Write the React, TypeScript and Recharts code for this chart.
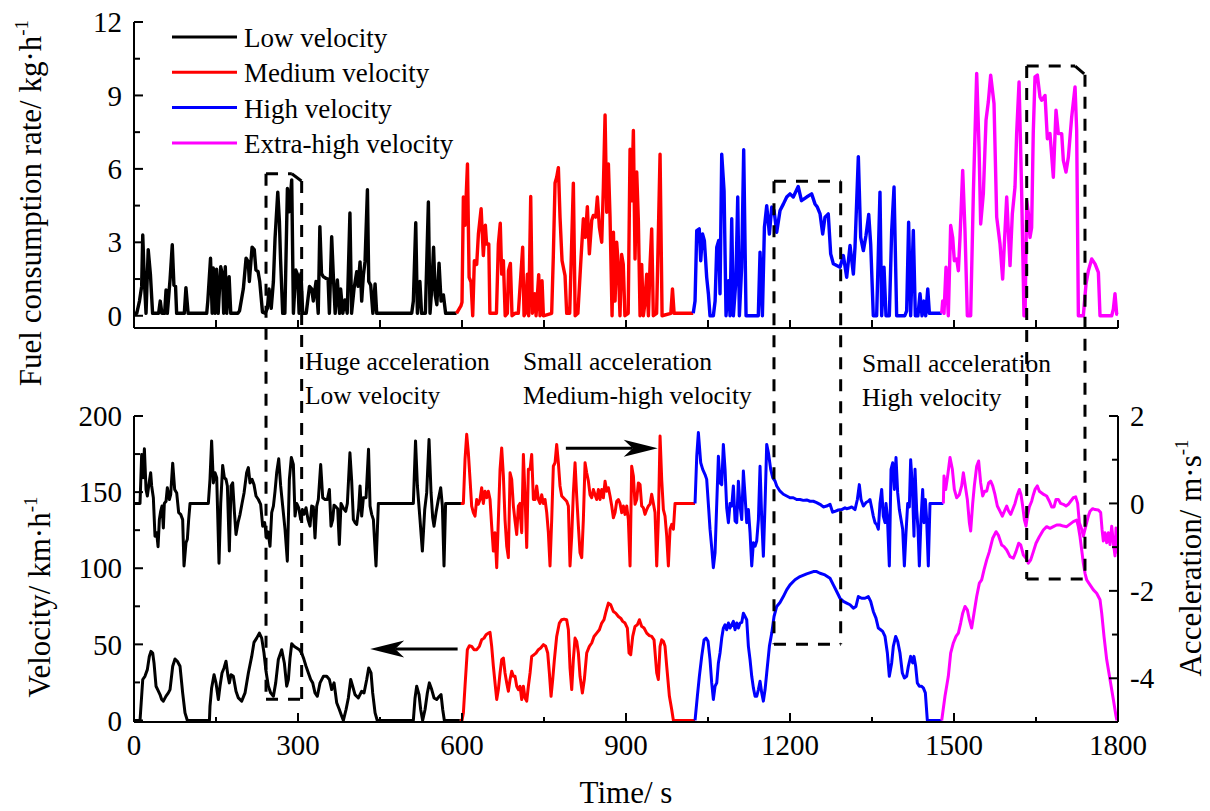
import React from 'react';
import { LineChart, Line, XAxis, YAxis, ReferenceLine } from 'recharts';

type Pt = [number, number];

const segmentNames = ['Low velocity', 'Medium velocity', 'High velocity', 'Extra-high velocity'];
const segmentColors = ['#000000', '#ff0000', '#0000ff', '#ff00ff'];

// fuel consumption rate (kg/h) vs time (s)
const fuelLow: Pt[] = [
  [0, 0.1], [5, 0.1], [10, 0.6], [14, 1.2], [16, 3.3], [19, 1.4], [22, 0.1], [26, 2.7], [30, 1.7], [34, 0.1],
  [45, 0.1], [48, 0.6], [51, 0.1], [56, 0.1], [58.6, 1.05], [61, 0.1], [66, 1.5], [70, 2.9], [73, 1.25], [76, 1.2],
  [78, 0.1], [92, 0.1], [95, 1.15], [99, 0.1], [133, 0.1], [135, 0.6], [140, 2.35], [143, 0.1], [145, 1.95], [148, 0.1],
  [151, 1.9], [154, 0.1], [158.6, 2.0], [162, 1.66], [164, 0.1], [167, 2.0], [169.6, 0.1], [174, 1.6], [177, 0.1],
  [190, 0.1], [193, 0.2], [200, 1.1], [205, 2.35], [209, 2.2], [211, 1.4], [216, 2.8], [220, 2.7], [223, 1.87],
  [227, 1.8], [230, 1.4], [235, 0.15], [240, 0.1], [244, 0.3], [247, 1.1], [251, 0.3], [255, 1.4], [258, 3.16],
  [263, 5.05], [266, 3.85], [268, 2.35], [272, 0.1], [276, 0.1], [280.6, 5.2], [284, 4.25], [288.5, 5.55], [291.6, 0.1],
  [296, 1.87], [299.5, 1.66], [302, 0.1], [305.5, 1.73], [308.6, 0.1], [315, 0.1], [321, 1.2], [325, 1.1], [328, 0.6],
  [333, 1.4], [337, 0.1], [340, 3.64], [343, 1.73], [346, 1.6], [351, 1.53], [355, 1.5], [357.4, 0.1], [361.6, 3.23],
  [364.7, 1.6], [368, 0.1], [372, 1.46], [376, 0.1], [378, 1.1], [382, 0.1], [386, 0.65], [390, 0.1], [395, 4.2],
  [398, 0.1], [402.5, 1.1], [407.4, 1.8], [410, 1.2], [413.5, 2.2], [416.5, 0.6], [419.6, 1.66], [422.6, 2.2],
  [427, 5.15], [429.4, 1.4], [433, 1.25], [437, 0.1], [441, 1.3], [444, 0.1], [508, 0.1], [511, 0.6], [515.4, 3.8],
  [518.4, 0.1], [523, 1.4], [526, 0.1], [533, 0.1], [538.5, 4.65], [541.5, 0.1], [544.6, 1.1], [548, 2.8], [551, 0.85],
  [554, 0.45], [558, 2.15], [561.7, 0.6], [566, 0.85], [570, 0.1], [590, 0.1],
];
const fuelMed: Pt[] = [
  [590, 0.1], [598, 0.4], [600, 0.55], [602.5, 4.85], [605.5, 3.7], [610, 6.2], [613, 1.57], [616.5, 1.37], [619.6, 0],
  [622.6, 2.25], [626.9, 2.1], [630, 3.34], [635, 4.37], [639, 2.46], [642.7, 3.7], [645, 2.93], [649, 2.93], [651, 0.1],
  [663, 0.1], [666.5, 2.93], [670, 3.78], [672.6, 1.7], [675.7, 2.25], [679, 0], [683, 0.1], [685, 1.84], [688.5, 2.14],
  [691.5, 0], [697, 0.1], [703, 0.1], [711, 2.8], [713.5, 0], [716, 0.1], [719.6, 1.7], [722, 0], [725.7, 4.87],
  [728.7, 0.1], [733, 0.9], [735.5, 0], [740.3, 1.68], [742.7, 0], [746.4, 1.43], [748.9, 0], [764, 0.1], [767, 2.39],
  [770.2, 5.42], [773.2, 5.66], [776.3, 6.05], [779.3, 4.03], [783, 2.25], [785.4, 1.98], [788.5, 1.64], [791.5, 0.1],
  [797, 0.1], [803.7, 5.42], [807, 0], [812, 0.1], [817.8, 2.39], [822, 3.96], [825.7, 3.2], [829.3, 4.46], [833, 2.53],
  [837.3, 3.9], [840.3, 4.1], [844.6, 4.03], [847.6, 4.85], [851.3, 3.62], [855.6, 3.0], [858.6, 5.26], [861.7, 8.2],
  [864.7, 4.23], [867.8, 6.2], [870.8, 4.03], [874.5, 0], [877, 3.41], [880, 0.6], [883, 3.0], [886, 2.0], [889, 0],
  [892, 2.5], [895, 2.1], [898, 0], [904, 0.1], [907.4, 6.8], [910.4, 4.7], [913.5, 7.57], [916.5, 2.32], [919.6, 5.87],
  [922.6, 3.9], [925.7, 0], [928.7, 2.1], [931.7, 0], [934, 0.4], [937.9, 1.7], [941, 0], [944, 2.1], [947, 3.55],
  [950, 0], [956, 0.1], [962.3, 6.6], [966, 0], [982, 0.1], [985, 1.1], [988, 0.1], [1023, 0.1],
];
const fuelHigh: Pt[] = [
  [1023, 0.1], [1026.3, 0.6], [1029.4, 3.48], [1034, 3.55], [1036.7, 2.25], [1040, 3.34], [1043.4, 3.07], [1047.6, 1.57],
  [1050.7, 0.9], [1053.7, 0], [1059.8, 0], [1063, 0.6], [1066, 2.8], [1069.6, 3.07], [1072, 0.9], [1075.1, 6.6],
  [1079.4, 5.1], [1083, 0], [1087.3, 1.43], [1090.3, 0], [1093.4, 3.96], [1096.4, 0], [1101, 1.43], [1104.4, 4.85],
  [1107.4, 0], [1111.6, 2.0], [1115.3, 6.78], [1119.6, 0], [1142, 0], [1145.2, 2.6], [1149.5, 0], [1153.2, 3.62],
  [1157.4, 4.5], [1162.3, 3.34], [1166.6, 4.44], [1170.8, 4.3], [1175.7, 3.41], [1181.8, 4.3], [1188, 4.57],
  [1194, 4.85], [1200, 4.98], [1206, 4.85], [1215, 5.28], [1221, 4.7], [1230.5, 4.85], [1239.6, 4.98], [1245.7, 4.57],
  [1250, 4.44], [1255, 4.16], [1259.8, 3.34], [1264, 4.03], [1270, 4.16], [1274.4, 2.53], [1279.3, 2.12], [1285.4, 2.05],
  [1291.5, 1.98], [1297.6, 2.46], [1303.7, 1.57], [1309.8, 2.87], [1315.9, 1.7], [1318.9, 2.8], [1325, 6.5],
  [1329.3, 3.2], [1334.2, 2.66], [1339, 3.28], [1344, 4.14], [1347.6, 2.93], [1352.4, 0], [1358.5, 0], [1364.6, 5.05],
  [1367.7, 0], [1372, 1.98], [1375.6, 0], [1381.7, 0], [1386, 3.48], [1390.3, 5.26], [1395.1, 0], [1410, 0],
  [1413.4, 0.2], [1417, 3.82], [1420.7, 0], [1425.6, 3.48], [1429.3, 0], [1434, 0], [1437.8, 0.9], [1441.5, 0],
  [1445.1, 0.6], [1448.2, 0], [1452, 1.1], [1455, 0.1], [1477.5, 0.1],
];
const fuelExtra: Pt[] = [
  [1477.5, 0.1], [1479.3, 0.6], [1481.7, 0.1], [1485.4, 1.98], [1489.6, 0], [1493.9, 3.69], [1497.6, 3.2],
  [1500.6, 2.25], [1504.9, 2.32], [1508, 1.84], [1511, 3.2], [1515.9, 5.94], [1520.1, 3.48], [1524.4, 0], [1530.5, 0],
  [1535.4, 5.0], [1541.5, 9.9], [1545.8, 6.9], [1548.8, 3.75], [1553.7, 5.0], [1558.6, 8.0], [1562.8, 8.74],
  [1567.1, 9.83], [1573.2, 8.67], [1578.1, 4.03], [1584.2, 2.93], [1589, 1.5], [1593.3, 3.48], [1596.4, 4.85],
  [1602.5, 2.05], [1606.7, 4.16], [1611.6, 5.26], [1614.6, 7.44], [1619, 9.55], [1623.8, 5.0], [1628, 0], [1630, 0],
  [1633, 4.7], [1636, 4.2], [1639, 3.2], [1642, 3.6], [1645, 7.5], [1648.2, 9.76], [1652.5, 9.83], [1657.3, 8.94],
  [1660.4, 8.8], [1666.5, 9.0], [1670.8, 7.23], [1675.6, 7.44], [1681.7, 5.66], [1686.6, 8.4], [1690.9, 7.44],
  [1697, 7.44], [1700, 6.35], [1704.9, 5.87], [1709.2, 6.48], [1715.3, 8.12], [1721.4, 9.35], [1724.4, 7.58],
  [1727.5, 0], [1736.6, 0], [1741.5, 1.3], [1745.8, 1.84], [1751.9, 2.32], [1758, 2.12], [1764.1, 1.77], [1767.1, 0],
  [1788.5, 0], [1791.5, 0.27], [1794.5, 0.9], [1797.6, 0.07], [1800, 0.05],
];

// velocity (km/h) vs time (s)
const velLow: Pt[] = [
  [0, 0], [11, 0], [16, 26.9], [20, 29], [24.4, 33.4], [28, 42], [31, 45.4], [34.2, 44.3], [36.6, 37.8], [40.3, 22.5],
  [43.3, 20.3], [47.6, 17], [50.6, 13.8], [53.7, 12.7], [58.6, 16], [62.8, 18.1], [65.9, 20.3], [70.8, 35.6], [75, 40.4],
  [79.3, 38.9], [84.2, 35.6], [89, 18.1], [93.3, 5], [97.6, 0], [138, 0], [139, 9.4], [142, 21.4], [146.4, 30.1],
  [150, 24.7], [154.3, 13.8], [157.3, 22.5], [161, 31.2], [164.7, 34.5], [168.3, 38.9], [172, 29], [174.4, 24.7],
  [177.5, 30.1], [181.7, 29], [186.6, 19.2], [190.9, 14.8], [197, 12.7], [203.1, 18.1], [209.2, 31.2], [215.3, 42.1],
  [219.5, 51.3], [224.4, 54.1], [229.3, 57.4], [233.6, 54.1], [237.8, 44.3], [241.5, 32.3], [245.8, 22.5], [250, 18.1],
  [255, 15.9], [259.2, 24.7], [264, 40], [270.2, 46.5], [275, 37.8], [279.3, 22.5], [282.4, 26.9], [285.4, 41],
  [288.5, 50.4], [292.7, 48.7], [297.6, 47.6], [302.5, 46.5], [306.7, 44.3], [311, 40], [314.7, 35.6], [319, 31.2],
  [323.2, 26.9], [326.9, 24.7], [331.1, 18.1], [335.4, 15.9], [340.3, 24.7], [346.4, 29], [352.5, 29], [357.4, 26.9],
  [361.6, 20.3], [366, 24.7], [370.8, 11.6], [375.6, 7.2], [380, 2.8], [383, 0], [387.9, 7.2], [392.1, 14.8],
  [396.4, 26.9], [400, 22.5], [404.3, 17], [410.4, 14.8], [416.5, 19.2], [420.8, 18.1], [425.7, 26.9], [429.3, 34.5],
  [433.6, 31.2], [436.6, 18.1], [441, 5], [445, 0], [511, 0], [514.1, 14.8], [517.1, 22.5], [521.4, 17], [524.4, 7.2],
  [528, 0], [532.4, 7.2], [536.6, 18.1], [540.3, 24.7], [544.6, 20.3], [548.8, 14.8], [553.7, 13.8], [558.6, 15.9],
  [561.7, 17], [564.7, 7.2], [567.7, 0], [596, 0],
];
const velMed: Pt[] = [
  [596, 0], [600, 0], [602.5, 5], [605.5, 22.5], [609.8, 46.5], [613.5, 49.1], [617.7, 48.7], [622, 46.5], [626.9, 46.5],
  [631.8, 48.7], [636, 53], [640.3, 54.1], [644, 56.3], [648.2, 57.4], [651.3, 57.9], [654.3, 48.7], [657.4, 35.6],
  [660.4, 24.7], [663.5, 13.8], [666.5, 20.3], [669.6, 31.2], [672.6, 40], [675.7, 41], [678.7, 31.2], [681.8, 24.7],
  [684.8, 19.2], [687.9, 26.9], [690.9, 32.3], [694, 29], [697, 29], [700.1, 22.5], [703.1, 20.3], [706.2, 22.5],
  [709.2, 13.8], [712.3, 22.5], [715.3, 14.8], [718.4, 12.7], [721.4, 22.5], [724.5, 31.2], [727.5, 42.1],
  [731.8, 43.2], [735.4, 44.3], [739.7, 46.5], [744, 47.6], [748.9, 49.8], [753.1, 48.7], [756.8, 44.3], [759.8, 31.2],
  [762.9, 15.9], [765.9, 26.9], [769, 40], [773.2, 55.2], [778.1, 64], [782.4, 66.2], [786.7, 66.6], [791.5, 66.2],
  [794.6, 59.6], [797.6, 34.5], [800.7, 20.3], [803.7, 40], [806.8, 54.1], [809.8, 52], [812.9, 44.3], [815.9, 29],
  [820.2, 18.1], [823.8, 26.9], [828.1, 44.3], [833, 48.7], [837.3, 50.9], [841.5, 55.2], [846.4, 57.4], [851.3, 59.6],
  [855.6, 64], [859.8, 66.2], [863.5, 71.6], [867.8, 77.1], [872, 76], [876.9, 71.6], [881.2, 70.5], [886, 68.3],
  [890.3, 67.2], [894, 65.1], [898.2, 64], [902.5, 60.7], [905.6, 44.3], [908.6, 43.2], [912.3, 55.2], [916.5, 61.8],
  [920.8, 62.9], [924.5, 66.2], [928.7, 61.8], [933, 60.7], [937.9, 57.4], [942.8, 55.7], [947, 55.2], [951.3, 53],
  [956.2, 31.2], [959.2, 26.9], [962.3, 48.7], [965.3, 53], [968.4, 52], [971.4, 48.7], [974.5, 35.6], [979.4, 15.9],
  [983.6, 7.2], [986.7, 0], [1026.3, 0],
];
const velHigh: Pt[] = [
  [1026.3, 0], [1030.5, 15.9], [1034.2, 29], [1038.5, 42.1], [1042.8, 53], [1046.4, 54.1], [1050.1, 52], [1053.7, 40],
  [1056.8, 24.7], [1059.8, 13.8], [1062.9, 22.5], [1066, 24.7], [1069, 37.8], [1072, 44.3], [1075.1, 54.1],
  [1078.1, 60.7], [1081.2, 62.9], [1084.2, 59.6], [1087.3, 64], [1090.3, 60.7], [1093.4, 62.9], [1096.4, 65.1],
  [1099.5, 59.6], [1102.5, 64], [1105.6, 60.7], [1108.6, 64], [1111.7, 64.4], [1114.7, 70.5], [1117.8, 68.3],
  [1120.8, 66.2], [1123.9, 48.7], [1126.9, 40], [1130, 29], [1133, 21.4], [1136.1, 15.9], [1139.1, 15.9],
  [1142.2, 20.3], [1145.2, 25.8], [1148.3, 18.1], [1151.3, 12.7], [1154.4, 20.3], [1157.4, 31.2], [1162.3, 48.7],
  [1166.6, 57.4], [1170.8, 68.3], [1175.7, 74.9], [1181.7, 77.5], [1187.8, 81.4], [1193.9, 85.8], [1200, 89.1],
  [1209.2, 92.4], [1218.3, 94.5], [1230.5, 96.3], [1242.7, 97.8], [1248.8, 97.8], [1254.9, 96.7], [1264, 95.6],
  [1273.2, 93.4], [1279.3, 89.1], [1285.4, 84.7], [1291.5, 80.3], [1297.6, 78.2], [1303.7, 77.1], [1309.8, 76],
  [1315.9, 73.8], [1320.7, 74.9], [1325, 81.4], [1331.1, 80.3], [1337.2, 80.3], [1343.3, 81.4], [1347.6, 78.2],
  [1352.4, 71.6], [1357.3, 67.2], [1361.6, 60.7], [1365.8, 59.6], [1369.5, 58.5], [1373.8, 55.2], [1378.1, 44.3],
  [1381.7, 29], [1386, 37.8], [1389, 48.7], [1393.3, 55.2], [1397, 52], [1401.2, 44.3], [1405.5, 31.2], [1409.2, 27.9],
  [1413.4, 29], [1416.5, 35.6], [1420.7, 42.1], [1424.4, 37.8], [1426.8, 42.1], [1429.9, 35.6], [1432.9, 24.7],
  [1436.6, 22.5], [1440.3, 22.5], [1443.9, 21.4], [1447.6, 18.1], [1451.2, 0], [1477.5, 0],
];
const velExtra: Pt[] = [
  [1477.5, 0], [1483.5, 15.9], [1489.6, 29], [1493.9, 44.3], [1498.8, 50.9], [1503.7, 55.2], [1508, 57.4], [1512.2, 64],
  [1515.9, 70.5], [1520.1, 74.9], [1524.4, 72.7], [1528.1, 66.2], [1532.3, 60.7], [1536.6, 70.5], [1541.5, 81.4],
  [1546.4, 90.2], [1550.6, 92.4], [1554.9, 98.9], [1559.8, 105.5], [1564.7, 110.9], [1570.8, 119.7], [1576.9, 124],
  [1581.1, 121.8], [1587.2, 115.3], [1591.5, 114.2], [1596.4, 112], [1602.5, 107.6], [1608.6, 106.6], [1613.4, 110.9],
  [1618.3, 116.4], [1622, 115.3], [1626.9, 108.7], [1631.7, 106.6], [1636, 103.3], [1640.3, 105.5], [1645.2, 110.9],
  [1650, 116.4], [1656.1, 120.7], [1663.4, 125.1], [1669.5, 127.3], [1675.6, 126.2], [1681.7, 127.3], [1687.8, 128.4],
  [1693.9, 128.4], [1700, 127.7], [1706.1, 127.3], [1712.2, 129], [1718.3, 130.6], [1724.4, 131.7], [1727.5, 127.3],
  [1730.5, 120.7], [1733.6, 112], [1736.6, 103.3], [1739.7, 96.7], [1742.7, 92.4], [1748.8, 89.1], [1755, 85.8],
  [1761, 83.6], [1767.1, 79.3], [1770.2, 70.5], [1774.4, 55.2], [1779.3, 40], [1785.4, 26.9], [1791.5, 13.8],
  [1796.4, 2.8], [1798, 0],
];

// acceleration (m/s^2) vs time (s)
const accLow: Pt[] = [
  [0, 0], [11, 0], [14, 1.12], [16.6, 0.59], [19, 1.25], [22, 0.32], [24.4, 0.17], [28, 0.5], [30.5, 0.7], [32.3, 0.4],
  [35.4, 0.13], [38.4, -0.75], [41.5, -0.67], [44, -0.99], [46.4, -0.37], [48.8, -0.18], [51.2, -0.06], [53.7, -0.56],
  [55.5, 0], [58.6, 0.05], [61, 0.36], [64.7, 0.09], [67.1, 0.2], [70.8, 0.92], [74.4, 0.32], [78.1, 0.24],
  [81.7, -0.21], [85.4, -0.25], [89, -0.37], [91.5, -1.43], [95.1, -0.9], [97.6, -0.82], [100, -0.37], [102.5, 0],
  [136, 0], [139, 0.55], [142, 1.43], [145.2, 0.47], [148.2, 0.7], [151.3, 0.59], [155.5, -1.37], [158.6, 0],
  [162.2, 0.87], [165.3, 0.59], [168.3, 0.55], [170.8, 0.4], [174.4, -1.09], [177.5, 0.4], [180.5, 0.47],
  [183.6, -0.18], [186.6, -0.71], [190.3, -0.44], [194, -0.25], [197.6, 0], [201.3, 0.24], [206, 0.7], [209.2, 0.82],
  [212.2, 0.47], [215.9, 0.55], [219.5, 0.43], [223.2, 0.17], [227.5, 0.09], [231.7, -0.02], [235.4, -0.52],
  [239, -0.44], [242.7, -0.79], [245.2, -0.65], [248.8, -0.98], [251.9, -0.21], [255, -0.06], [258, 0.28], [261, 0.7],
  [264.7, 1.02], [268.3, 0.4], [272, -0.06], [276.3, -0.6], [280.5, -1.32], [284.2, 0.55], [287.8, 1.05],
  [291.5, 0.89], [294.6, -0.29], [297.6, 0], [301.3, -0.1], [304.9, -0.37], [308, -0.14], [311, -0.25], [314.7, -0.1],
  [318.3, -0.37], [322, -0.52], [325, -0.06], [328.1, -0.08], [331.1, -0.79], [334.2, -0.06], [337.2, 0.09],
  [341.5, 0.89], [345.2, 0.13], [349.5, 0.09], [353.7, 0.09], [357.4, 0.32], [360.4, -0.52], [363.5, -0.37],
  [365.9, -0.04], [369.5, -0.08], [372.6, -0.12], [375.6, -0.94], [378.7, 0], [383, -0.11], [387.3, -0.18],
  [390.3, 0], [395, 1.16], [398.2, 0.51], [401.3, -0.37], [404.3, -0.44], [407.4, -0.48], [411, -0.11], [413.5, 0.4],
  [416.5, -0.29], [419.6, 0.13], [424.5, 0.13], [429, 1.24], [431.8, -0.06], [434.8, -0.25], [437.9, -0.37],
  [442.7, -1.43], [447, 0], [511, 0], [515, 1.43], [518.4, 0.4], [523.2, -0.37], [527.5, -1.09], [531.8, -0.14],
  [535.4, 0.24], [539.7, 1.46], [543.4, 0.24], [546.4, -0.33], [548.8, -0.52], [552.5, -0.21], [556.7, 0.09],
  [561, 0.36], [564.1, -0.06], [567.1, -1.43], [570, 0], [598, 0],
];
const accMed: Pt[] = [
  [598, 0], [602.5, 0], [605.5, 1.0], [608.6, 1.58], [611.6, 1.16], [614.7, 0.55], [617.7, -0.06], [620.8, -0.21],
  [623.8, -0.29], [626.9, 0.09], [629.9, -0.02], [633, 0.09], [636, 0.36], [639, 0], [642.1, 0.28], [645.2, 0.13],
  [648.2, 0.28], [651.3, 0.09], [654.3, -0.52], [657.4, -1.09], [660.4, -0.67], [663.5, -1.47], [666.5, -0.37],
  [669.6, 0.78], [672.6, 1.27], [675.7, 0.63], [678.7, -0.37], [681.8, -0.98], [684.8, -1.24], [687.9, 0.7],
  [690.9, 0.55], [694, -0.06], [697, -0.4], [700.1, -0.71], [703.1, -0.06], [706.2, 0], [707.4, -0.37], [709.2, -0.67],
  [712.3, 1.12], [715.3, 0.17], [718.4, -1.01], [721.4, 0.78], [724.5, 0.78], [727.5, 1.12], [730.6, 0.09],
  [733.6, 0.09], [736.6, 0.4], [739.7, 0.09], [742.7, 0], [745.8, 0.2], [748.9, 0], [751.9, 0.09], [755, -0.21],
  [758, -0.67], [761, -1.43], [764.1, -0.37], [767.1, 0.85], [770.2, 0.93], [773.2, 1.35], [776.3, 0.93], [779.3, 0.4],
  [782.4, 0.17], [785.4, 0.13], [791.5, 0.05], [794.6, -0.06], [797.6, -1.43], [800.7, -0.75], [803.7, 0.24],
  [806.8, 0.93], [809.8, 0.17], [812.9, -0.52], [815.9, -1.13], [819, -1.24], [822, -0.37], [825.1, 0.93],
  [828.1, 0.7], [831.2, 0.51], [834.2, 0.2], [837.3, 0.13], [840.3, 0.32], [843.4, 0.2], [846.4, 0.09], [849.5, 0.32],
  [852.5, 0.09], [855.6, 0.32], [858.6, 0.13], [861.7, 0.51], [864.7, 0.28], [867.8, 0.36], [870.8, 0.17],
  [873.9, -0.06], [876.9, -0.33], [880, -0.21], [883, 0.05], [886.1, 0.09], [889.1, 0], [892.2, -0.21], [895.2, -0.06],
  [898.2, -0.25], [901.3, -0.06], [904.3, -0.37], [907.4, -1.43], [910.4, 0.85], [913.5, 0.63], [916.5, -0.02],
  [919.6, 0.09], [922.6, 0.47], [925.7, 0.43], [928.7, -0.06], [931.8, -0.1], [934.8, -0.25], [937.9, -0.14],
  [940.9, -0.06], [944, -0.02], [947, 0.21], [950.1, 0], [953.1, -0.21], [956.2, -1.43], [959.2, -0.37], [962.3, 1.54],
  [965.3, 0.55], [968.4, -0.14], [971.4, -0.29], [974.5, -0.75], [977.5, -1.43], [980.6, -0.59], [983.6, -0.48],
  [986.7, -0.59], [989.7, 0], [1026.3, 0],
];
const accHigh: Pt[] = [
  [1026.3, 0], [1029.4, 1.08], [1032.4, 1.62], [1036.7, 0.93], [1040.3, 0.78], [1044.6, 0.66], [1047.6, 0.55],
  [1050.7, -0.02], [1053.7, -0.59], [1056.8, -1.01], [1059.8, -1.47], [1062.9, -1.13], [1066, 0], [1069, 1.08],
  [1072, 0.47], [1075.1, 0.43], [1078.1, 1.35], [1081.2, 0.78], [1084.2, -0.1], [1087.3, -0.44], [1090.3, 0],
  [1093.4, -0.06], [1096.4, 0.4], [1099.5, -0.4], [1102.5, -0.44], [1105.6, 0.51], [1108.6, -0.06], [1111.7, -0.37],
  [1114.7, 0.74], [1117.8, 0.17], [1120.8, -0.44], [1123.9, -0.14], [1126.9, -0.67], [1130, -1.43], [1133, -0.9],
  [1136.1, -0.98], [1139.1, -0.86], [1142.2, -0.37], [1145.2, 0.85], [1148.3, -0.37], [1151.3, -1.21], [1154.4, 0],
  [1157.4, 1.35], [1160.5, 1.16], [1164.7, 0.78], [1168.4, 0.59], [1172.7, 0.51], [1175.7, 0.4], [1181.8, 0.28],
  [1187.9, 0.21], [1194, 0.17], [1200.1, 0.13], [1206, 0.13], [1212.2, 0.09], [1218.3, 0.09], [1224.4, 0.07],
  [1230.5, 0.08], [1236.6, 0.05], [1242.7, 0.05], [1248.8, 0.02], [1254.9, -0.02], [1261, -0.08], [1267.1, -0.06],
  [1273.2, -0.02], [1278, -0.2], [1282.3, -0.18], [1288.4, -0.15], [1294.5, -0.14], [1300.6, -0.1], [1303.7, -0.12],
  [1309.8, -0.1], [1312.8, -0.08], [1318.9, -0.14], [1323.2, 0.09], [1326.8, 0.43], [1329.9, 0.09], [1334.2, -0.06],
  [1339, 0.02], [1343.3, 0.05], [1346.3, 0.09], [1349.4, -0.1], [1352.4, -0.29], [1355.5, -0.44], [1358.5, -0.48],
  [1361.6, -0.59], [1364.6, 0], [1367.7, 0.32], [1370.7, -0.29], [1373.8, -0.44], [1375.6, 0], [1378.1, -0.29],
  [1381.7, -1.43], [1384.8, 0.78], [1387.8, 0.93], [1390.9, 0.32], [1393.9, 1.05], [1397, 0.24], [1400, -0.14],
  [1403.1, -0.37], [1406.1, -0.59], [1409.2, -1.43], [1412.2, -0.67], [1415.3, 0], [1418.3, -0.08], [1420.7, 1.0],
  [1423.8, 0.4], [1426.8, -0.75], [1428.7, 0.78], [1431.7, -0.14], [1434.2, -0.59], [1436.6, -1.43], [1439.6, -0.37],
  [1442.7, 0.32], [1445.1, -0.44], [1447.6, 0.09], [1450, -0.37], [1453, -1.43], [1456.1, 0], [1480.5, 0],
];
const accExtra: Pt[] = [
  [1480.5, 0], [1481.7, 0.63], [1484.8, 0.32], [1488.4, 0.63], [1492.7, 1.05], [1497, 0.78], [1500.6, 0.32],
  [1504.9, 0.13], [1509.8, 0.2], [1514, 0.4], [1517.1, 0.7], [1520.7, 0.4], [1524.4, 0.09], [1528.1, -0.44],
  [1530.5, -0.63], [1534.2, 0], [1537.2, 0.4], [1541.5, 0.85], [1545.1, 0.97], [1548.8, 0.47], [1552.5, 0.17],
  [1556.1, 0.28], [1559.8, 0.28], [1563.4, 0.47], [1567.1, 0.51], [1570.8, 0.4], [1575, 0.2], [1579.3, -0.06],
  [1584.2, -0.18], [1588.4, -0.29], [1592.1, -0.18], [1596.4, -0.06], [1600, -0.18], [1603.7, -0.25], [1607.3, -0.14],
  [1611.6, 0], [1615.9, 0.2], [1619.5, 0.32], [1622.6, 0.2], [1625.6, -0.06], [1628.7, -0.37], [1631.7, -0.52],
  [1634.2, -0.29], [1637.8, -0.08], [1642.1, 0.05], [1645.2, 0.2], [1648.2, 0.32], [1652.5, 0.4], [1656.1, 0.28],
  [1660.4, 0.24], [1664.7, 0.2], [1669.5, 0.17], [1674.4, 0.05], [1678.7, -0.08], [1683, -0.08], [1686.6, 0.09],
  [1690.9, 0.09], [1695.1, 0], [1700, -0.02], [1704.9, -0.06], [1709.2, -0.02], [1713.4, 0.05], [1718.3, 0.13],
  [1722.6, 0.15], [1726.2, 0], [1729.3, -0.44], [1733.6, -0.59], [1736.6, -0.75], [1739.7, -0.59], [1742.7, -0.44],
  [1745.8, -0.29], [1748.8, -0.18], [1753.7, -0.12], [1758, -0.14], [1764.1, -0.15], [1768.3, -0.21], [1770.8, -0.59],
  [1773.2, -0.86], [1776.3, -0.67], [1779.3, -0.9], [1782.4, -0.67], [1785.4, -0.94], [1788.5, -0.52], [1791.5, -0.9],
  [1794.5, -1.2], [1796.4, -0.56], [1799, -1.15],
];

const timeTicks = [0, 150, 300, 450, 600, 750, 900, 1050, 1200, 1350, 1500, 1650, 1800];
const timeLabels = [0, 300, 600, 900, 1200, 1500, 1800];
const fuelTicks = [0, 1.5, 3, 4.5, 6, 7.5, 9, 10.5, 12];
const fuelLabels = [0, 3, 6, 9, 12];
const velTicks = [0, 25, 50, 75, 100, 125, 150, 175, 200];
const velLabels = [0, 50, 100, 150, 200];
const accTicks = [-4, -3, -2, -1, 0, 1, 2];
const accLabels = [-4, -2, 0, 2];

// dashed boxes: time span, fuel of top edge, velocity of bottom edge, cut corner (s, kg/h)
const boxTimes: Pt[] = [[241.5, 306.7], [1170.7, 1292.7], [1633, 1739.6]];
const boxFuelTop = [5.8, 5.49, 10.2];
const boxVelBottom = [14, 50, 93];
const boxCorner: Pt[] = [[18, 0.3], [0, 0], [18, 0.35]];

// arrows
const arrowToVelocity: Pt[] = [[592, 47], [432, 47]];
const arrowToAcceleration: Pt[] = [[790, 1.26], [958, 1.26]];

const notes = [
  { lines: ['Huge acceleration', 'Low velocity'], x: 305, y: 370 },
  { lines: ['Small acceleration', 'Medium-high velocity'], x: 523, y: 370 },
  { lines: ['Small acceleration', 'High velocity'], x: 862, y: 372 },
];

// ---- layout ----
const W = 1210;
const H = 811;
const LEFT = 134;
const RIGHT = 1118;
const TOP_PANEL: Pt = [22, 328];
const BOT_PANEL: Pt = [416, 722];
const FUEL_DOMAIN: Pt = [-0.5, 12];
const VEL_DOMAIN: Pt = [-1, 200];
const ACC_DOMAIN: Pt = [-5, 2];
const FONT = "'Liberation Serif', 'Times New Roman', serif";

const rows = (pts: Pt[]) => pts.map(([t, y]) => ({ t, y }));

// velocity value that sits at the same height as a fuel value (both charts share one frame)
const fuelToVel = (f: number) => {
  const py = TOP_PANEL[0] + ((FUEL_DOMAIN[1] - f) / (FUEL_DOMAIN[1] - FUEL_DOMAIN[0])) * (TOP_PANEL[1] - TOP_PANEL[0]);
  return VEL_DOMAIN[0] + ((BOT_PANEL[1] - py) / (BOT_PANEL[1] - BOT_PANEL[0])) * (VEL_DOMAIN[1] - VEL_DOMAIN[0]);
};

const xTick = (labels: boolean) => (props: any) => {
  const { x, y, payload } = props;
  const major = timeLabels.includes(payload.value);
  const len = labels ? (major ? 9 : 5) : 8;
  return (
    <g>
      <line x1={x} y1={y} x2={x} y2={y - len} stroke="#000" strokeWidth={2} />
      {labels && major && (
        <text x={x} y={y + 33} textAnchor="middle" fontFamily={FONT} fontSize={29} fill="#000">
          {payload.value}
        </text>
      )}
    </g>
  );
};

const leftTick = (majors: number[]) => (props: any) => {
  const { x, y, payload } = props;
  const major = majors.includes(payload.value);
  return (
    <g>
      <line x1={x} y1={y} x2={x + (major ? 9 : 6)} y2={y} stroke="#000" strokeWidth={2} />
      {major && (
        <text x={x - 12} y={y} dy="0.35em" textAnchor="end" fontFamily={FONT} fontSize={29} fill="#000">
          {payload.value}
        </text>
      )}
    </g>
  );
};

const rightTick = (majors: number[]) => (props: any) => {
  const { x, y, payload } = props;
  const major = majors.includes(payload.value);
  return (
    <g>
      <line x1={x} y1={y} x2={x - (major ? 9 : 6)} y2={y} stroke="#000" strokeWidth={2} />
      {major && (
        <text x={x + 12} y={y} dy="0.35em" textAnchor="start" fontFamily={FONT} fontSize={29} fill="#000">
          {payload.value}
        </text>
      )}
    </g>
  );
};

const Arrow = (props: any) => {
  const { x1, y1, x2, y2 } = props;
  const len = Math.hypot(x2 - x1, y2 - y1);
  const ux = (x2 - x1) / len;
  const uy = (y2 - y1) / len;
  const head = 34;
  const half = 8.5;
  const notch = 25;
  const bx = x2 - ux * head;
  const by = y2 - uy * head;
  const nx = x2 - ux * notch;
  const ny = y2 - uy * notch;
  return (
    <g>
      <line x1={x1} y1={y1} x2={nx} y2={ny} stroke="#000" strokeWidth={3} />
      <polygon
        points={`${x2},${y2} ${bx - uy * half},${by + ux * half} ${nx},${ny} ${bx + uy * half},${by - ux * half}`}
        fill="#000"
      />
    </g>
  );
};

const dash = { stroke: '#000', strokeWidth: 3, strokeDasharray: '12 10' };
const axisLine = { stroke: '#000', strokeWidth: 2 };

const fuelSeries = [fuelLow, fuelMed, fuelHigh, fuelExtra];
const velSeries = [velLow, velMed, velHigh, velExtra];
const accSeries = [accLow, accMed, accHigh, accExtra];

const App = () => {
  return (
    <div style={{ position: 'relative', width: W, height: H, background: '#fff' }}>
      <style>{'body{margin:0;background:#fff}'}</style>

      <div style={{ position: 'absolute', left: 0, top: 0 }}>
        <LineChart
          width={W}
          height={H}
          margin={{ top: TOP_PANEL[0], right: W - RIGHT, bottom: H - TOP_PANEL[1] - 10, left: LEFT - 100 }}
        >
          <XAxis
            type="number"
            dataKey="t"
            domain={[0, 1800]}
            ticks={timeTicks}
            interval={0}
            height={10}
            tickSize={0}
            tickMargin={0}
            tickLine={false}
            axisLine={axisLine}
            tick={xTick(false)}
          />
          <YAxis
            yAxisId="fuel"
            type="number"
            domain={FUEL_DOMAIN}
            ticks={fuelTicks}
            interval={0}
            width={100}
            tickSize={0}
            tickMargin={0}
            tickLine={false}
            axisLine={axisLine}
            tick={leftTick(fuelLabels)}
          />
          {fuelSeries.map((s, i) => (
            <Line
              key={`fuel-${i}`}
              yAxisId="fuel"
              data={rows(s)}
              dataKey="y"
              type="linear"
              stroke={segmentColors[i]}
              strokeWidth={3.4}
              strokeLinejoin="round"
              dot={false}
              activeDot={false}
              isAnimationActive={false}
            />
          ))}
          {boxTimes.map(([t0, t1], i) => (
            <ReferenceLine
              key={`top-${i}`}
              yAxisId="fuel"
              ifOverflow="visible"
              segment={[
                { x: t0, y: boxFuelTop[i] },
                { x: t1 - boxCorner[i][0], y: boxFuelTop[i] },
              ]}
              {...dash}
            />
          ))}
          {boxTimes.map(([, t1], i) =>
            boxCorner[i][0] > 0 ? (
              <ReferenceLine
                key={`corner-${i}`}
                yAxisId="fuel"
                ifOverflow="visible"
                segment={[
                  { x: t1 - boxCorner[i][0], y: boxFuelTop[i] },
                  { x: t1, y: boxFuelTop[i] - boxCorner[i][1] },
                ]}
                {...dash}
              />
            ) : null
          )}
        </LineChart>
      </div>

      <div style={{ position: 'absolute', left: 0, top: 0 }}>
        <LineChart
          width={W}
          height={H}
          margin={{ top: BOT_PANEL[0], right: W - RIGHT - 80, bottom: H - BOT_PANEL[1] - 40, left: LEFT - 100 }}
        >
          <XAxis
            type="number"
            dataKey="t"
            domain={[0, 1800]}
            ticks={timeTicks}
            interval={0}
            height={40}
            tickSize={0}
            tickMargin={0}
            tickLine={false}
            axisLine={axisLine}
            tick={xTick(true)}
          />
          <YAxis
            yAxisId="vel"
            orientation="left"
            type="number"
            domain={VEL_DOMAIN}
            ticks={velTicks}
            interval={0}
            width={100}
            tickSize={0}
            tickMargin={0}
            tickLine={false}
            axisLine={axisLine}
            tick={leftTick(velLabels)}
          />
          <YAxis
            yAxisId="acc"
            orientation="right"
            type="number"
            domain={ACC_DOMAIN}
            ticks={accTicks}
            interval={0}
            width={80}
            tickSize={0}
            tickMargin={0}
            tickLine={false}
            axisLine={axisLine}
            tick={rightTick(accLabels)}
          />
          {accSeries.map((s, i) => (
            <Line
              key={`acc-${i}`}
              yAxisId="acc"
              data={rows(s)}
              dataKey="y"
              type="linear"
              stroke={segmentColors[i]}
              strokeWidth={3}
              strokeLinejoin="round"
              dot={false}
              activeDot={false}
              isAnimationActive={false}
            />
          ))}
          {velSeries.map((s, i) => (
            <Line
              key={`vel-${i}`}
              yAxisId="vel"
              data={rows(s)}
              dataKey="y"
              type="linear"
              stroke={segmentColors[i]}
              strokeWidth={3}
              strokeLinejoin="round"
              dot={false}
              activeDot={false}
              isAnimationActive={false}
            />
          ))}
          {boxTimes.map(([t0, t1], i) => (
            <React.Fragment key={`box-${i}`}>
              <ReferenceLine
                yAxisId="vel"
                ifOverflow="visible"
                segment={[
                  { x: t0, y: fuelToVel(boxFuelTop[i]) },
                  { x: t0, y: boxVelBottom[i] },
                ]}
                {...dash}
              />
              <ReferenceLine
                yAxisId="vel"
                ifOverflow="visible"
                segment={[
                  { x: t1, y: fuelToVel(boxFuelTop[i] - boxCorner[i][1]) },
                  { x: t1, y: boxVelBottom[i] },
                ]}
                {...dash}
              />
              <ReferenceLine
                yAxisId="vel"
                ifOverflow="visible"
                segment={[
                  { x: t0, y: boxVelBottom[i] },
                  { x: t1, y: boxVelBottom[i] },
                ]}
                {...dash}
              />
            </React.Fragment>
          ))}
          <ReferenceLine
            yAxisId="vel"
            ifOverflow="visible"
            segment={arrowToVelocity.map(([x, y]) => ({ x, y }))}
            shape={Arrow}
          />
          <ReferenceLine
            yAxisId="acc"
            ifOverflow="visible"
            segment={arrowToAcceleration.map(([x, y]) => ({ x, y }))}
            shape={Arrow}
          />
        </LineChart>
      </div>

      <svg
        width={W}
        height={H}
        style={{ position: 'absolute', left: 0, top: 0, pointerEvents: 'none' }}
        fontFamily={FONT}
        fill="#000"
      >
        {segmentNames.map((name, i) => (
          <g key={name}>
            <line x1={172} x2={237} y1={37 + i * 35.3} y2={37 + i * 35.3} stroke={segmentColors[i]} strokeWidth={3} />
            <text x={244} y={37 + i * 35.3 + 10} fontSize={27}>
              {name}
            </text>
          </g>
        ))}
        {notes.map((n, i) =>
          n.lines.map((line, j) => (
            <text key={`${i}-${j}`} x={n.x} y={n.y + j * 34} fontSize={25.5}>
              {line}
            </text>
          ))
        )}
        <text transform="translate(41, 203) rotate(-90)" textAnchor="middle" fontSize={31}>
          Fuel consumption rate/ kg·h
          <tspan dy={-13} fontSize={19}>-1</tspan>
        </text>
        <text transform="translate(50, 597) rotate(-90)" textAnchor="middle" fontSize={31}>
          Velocity/ km·h
          <tspan dy={-13} fontSize={19}>-1</tspan>
        </text>
        <text transform="translate(1201, 558) rotate(-90)" textAnchor="middle" fontSize={31}>
          Acceleration/ m·s
          <tspan dy={-13} fontSize={19}>-1</tspan>
        </text>
        <text x={626} y={803} textAnchor="middle" fontSize={31}>
          Time/ s
        </text>
      </svg>
    </div>
  );
};

export default App;
